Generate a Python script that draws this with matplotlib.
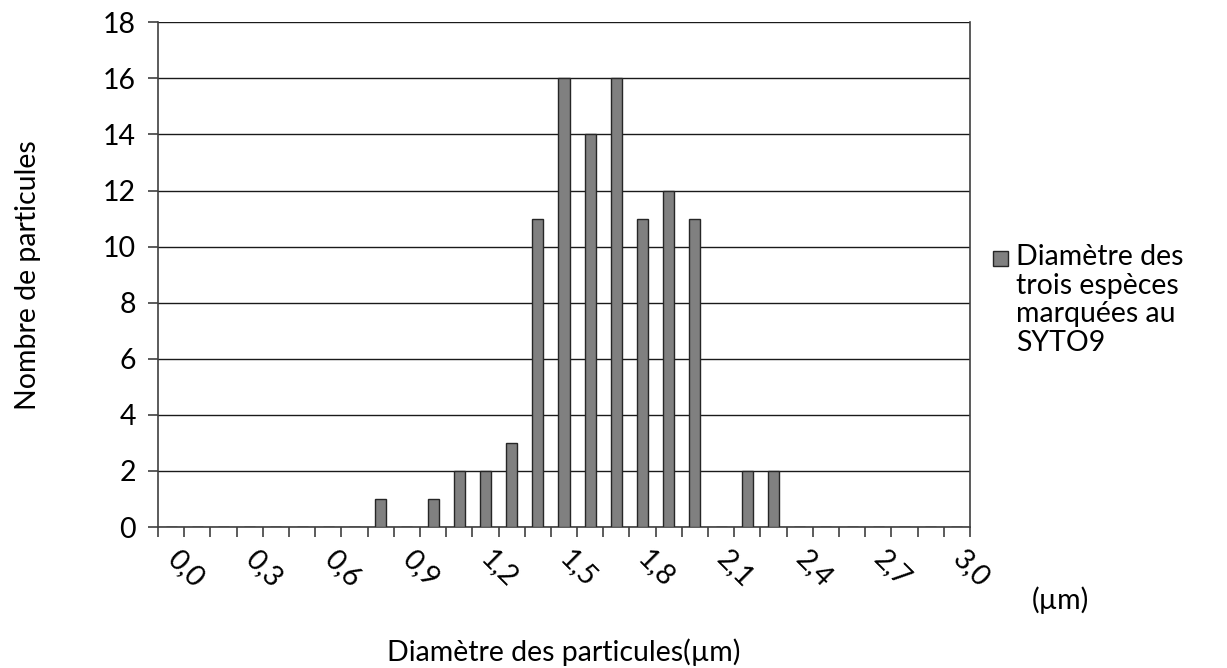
import matplotlib
matplotlib.use("Agg")
import matplotlib.pyplot as plt
from matplotlib.patches import Rectangle

# Particle diameter classes (µm) and counts
diameters = [round(0.1 * i, 1) for i in range(31)]
counts = [0, 0, 0, 0, 0, 0, 0, 0, 1, 0,
          1, 2, 2, 3, 11, 16, 14, 16, 11, 12,
          11, 0, 2, 2, 0, 0, 0, 0, 0, 0, 0]
labelled = diameters[::3]
tick_text = [f"{d:.1f}".replace(".", ",") for d in labelled]
y_ticks = list(range(0, 19, 2))

series_name = "Diamètre des\ntrois espèces\nmarquées au\nSYTO9"

plt.rcParams["font.family"] = ["Lato", "DejaVu Sans"]
W, H = 1227, 668
FS = 20.5
fig = plt.figure(figsize=(W / 100, H / 100), dpi=100)
ax = fig.add_axes([158 / W, 1 - 527 / H, (970 - 158) / W, (527 - 22.3) / H])

axis_col = "#404040"
bar_face = "#808080"
bar_edge = "#262626"

x = list(range(len(diameters)))
ax.bar(x, counts, width=0.42, color=bar_face, edgecolor=bar_edge,
       linewidth=1.0, zorder=3)

ax.set_xlim(-0.5, len(diameters) - 0.5)
ax.set_ylim(0, 18)

# horizontal gridlines
ax.set_yticks(y_ticks)
ax.yaxis.grid(True, color="#1a1a1a", linewidth=1.0, zorder=1)
ax.set_axisbelow(True)

for side in ["left", "right", "bottom", "top"]:
    ax.spines[side].set_color(axis_col)
    ax.spines[side].set_linewidth(1.2)
ax.spines["top"].set_visible(False)

ax.tick_params(axis="y", direction="out", length=7, width=1.2, color=axis_col,
               pad=9, labelsize=FS, labelcolor="black")

# tick marks at category boundaries, labels every third class
ax.set_xticks([i - 0.5 for i in range(len(diameters) + 1)], minor=True)
ax.tick_params(axis="x", which="minor", direction="out", length=7, width=1.2,
               color=axis_col)
ax.set_xticks(x[::3])
ax.set_xticklabels(tick_text, rotation=-45, rotation_mode="anchor",
                   ha="left", va="center", fontsize=FS)
ax.tick_params(axis="x", which="major", length=0, pad=20)

fig.text(564 / W, 1 - 652 / H, "Diamètre des particules(µm)", ha="center",
         va="center", fontsize=FS)
fig.text(28 / W, 1 - 275 / H, "Nombre de particules", ha="center",
         va="center", rotation=90, fontsize=FS)
fig.text(1060 / W, 1 - 600 / H, "(µm)", ha="center", va="center", fontsize=FS)

# legend entry
fig.patches.append(Rectangle((993 / W, 1 - 266 / H), 15 / W, 15 / H,
                             transform=fig.transFigure, facecolor=bar_face,
                             edgecolor=bar_edge, linewidth=1.0))
fig.text(1016 / W, 1 - 244 / H, series_name, ha="left", va="top",
         fontsize=FS, linespacing=1.12)

fig.savefig("out.png", dpi=100, facecolor="white")
